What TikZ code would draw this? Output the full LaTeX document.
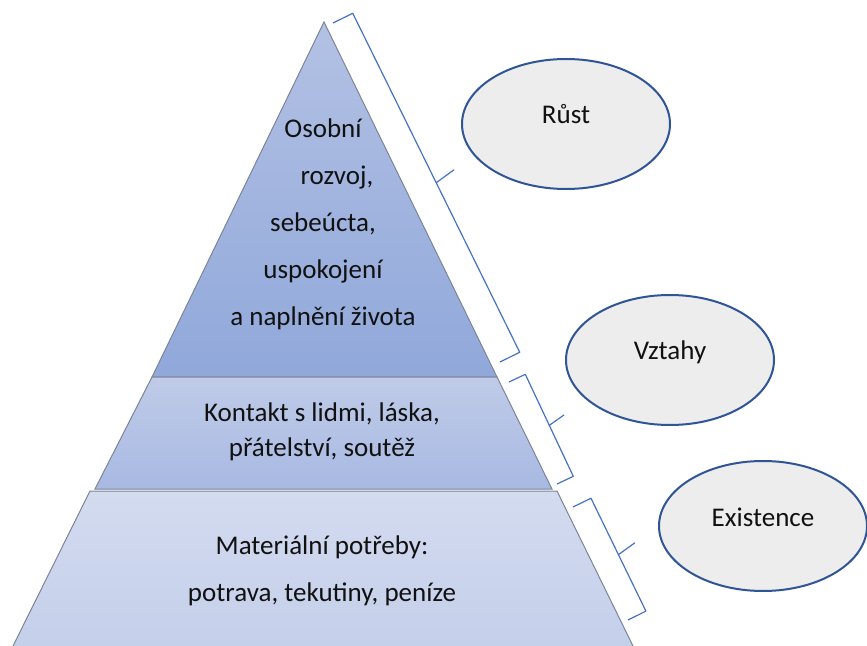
\documentclass[tikz,border=0pt]{standalone}
\usepackage{fontspec}
\setmainfont{Carlito}
\usetikzlibrary{shapes.geometric,calc}
\definecolor{Ink}{HTML}{111111}
\definecolor{Edge}{HTML}{7C8597}
\definecolor{Brace}{HTML}{4472C4}
\definecolor{Ring}{HTML}{2F5597}
\definecolor{Cloud}{HTML}{EDEDED}
\definecolor{TopA}{HTML}{B3C1E4}
\definecolor{TopB}{HTML}{90A8DA}
\definecolor{MidA}{HTML}{BFCBE8}
\definecolor{MidB}{HTML}{A8B9E2}
\definecolor{LowA}{HTML}{D3DBEF}
\definecolor{LowB}{HTML}{C4CFEA}

\begin{document}
\begin{tikzpicture}[x=0.5pt,y=-0.5pt,
  lvl/.style={draw=Edge,line width=0.5pt},
  txt/.style={align=center,text=Ink,font=\fontsize{13.5}{23.5}\selectfont},
  brc/.style={draw=Brace,line width=0.6pt,line join=round,
    to path={let \p1=($(\tikztotarget)-(\tikztostart)$),
      \n1={atan2(\y1,\x1)},\n2={veclen(\x1,\y1)/2} in
      -- ++(\n1+90:#1) -- ++(\n1:{\n2*1pt}) -- ++(\n1+100:#1)
      -- ++(\n1-80:#1) -- ++(\n1:{\n2*1pt}) -- (\tikztotarget)}},
  tag/.style={ellipse,draw=Ring,line width=1pt,fill=Cloud,text=Ink,
    minimum width=104pt,minimum height=65pt,text height=10pt,text depth=10pt,
    font=\fontsize{13.5}{16}\selectfont}]
  \useasboundingbox (0,0) rectangle (867,646);
  \coordinate (apex) at (324,22);
  \coordinate (t1) at (152,377);
  \coordinate (t2) at (497,377);
  \coordinate (m1) at (95,489);
  \coordinate (m2) at (552,489);
  \coordinate (b0) at (90,491);
  \coordinate (b3) at (557,491);
  \coordinate (b1) at (13,646);
  \coordinate (b2) at (633,646);
  \shade[top color=LowA,bottom color=LowB] (b0) -- (b3) -- (b2) -- (b1) -- cycle;
  \draw[lvl] (b1) -- (b0) -- (b3) -- (b2);
  \shade[top color=MidA,bottom color=MidB] (t1) -- (t2) -- (m2) -- (m1) -- cycle;
  \draw[lvl] (t1) -- (t2) -- (m2) -- (m1) -- cycle;
  \shade[top color=TopA,bottom color=TopB] (apex) -- (t2) -- (t1) -- cycle;
  \draw[lvl] (apex) -- (t2) -- (t1) -- cycle;
  \node[txt] (self) at (323,224) {Osobní\\\hspace*{14pt}rozvoj,\\sebeúcta,\\uspokojení\\a naplnění života};
  \node[txt,font=\fontsize{13.5}{17.5}\selectfont] (social) at (322,432)
    {Kontakt s lidmi, láska,\\přátelství, soutěž};
  \node[txt] (needs) at (322,571) {Materiální potřeby:\\potrava, tekutiny, peníze};
  \coordinate (r1) at (333,23);
  \coordinate (r2) at (500,362);
  \coordinate (v1) at (509,382);
  \coordinate (v2) at (557,484);
  \coordinate (e1) at (573,507);
  \coordinate (e2) at (628,620);
  \draw[brc=11pt] (r1) to (r2);
  \draw[brc=9pt] (v1) to (v2);
  \draw[brc=10pt] (e1) to (e2);
  \node[tag] (grow) at (566,124) {Růst};
  \node[tag] (bond) at (670,360) {Vztahy};
  \node[tag] (live) at (763,526) {Existence};
\end{tikzpicture}
\end{document}
